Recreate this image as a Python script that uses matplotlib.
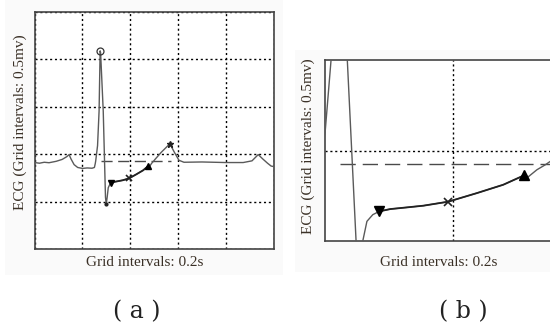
import numpy as np
import matplotlib.pyplot as plt
from matplotlib.patches import Rectangle

# ECG trace (time in s, amplitude in mV)
t = [0.0, 0.02, 0.04, 0.06, 0.09, 0.115, 0.135, 0.144, 0.152, 0.165, 0.18,
     0.2, 0.22, 0.24, 0.25, 0.2535, 0.2555, 0.2632, 0.2696, 0.274, 0.276,
     0.287, 0.2964, 0.2995, 0.3035, 0.308, 0.3143, 0.3213, 0.333, 0.35,
     0.3685, 0.395, 0.4257, 0.454, 0.476, 0.4795, 0.49, 0.499, 0.504, 0.53,
     0.566, 0.585, 0.604, 0.625, 0.70, 0.80, 0.873, 0.91, 0.936, 0.955,
     0.975, 0.99, 1.0]
ecg = [0.912, 0.905, 0.915, 0.91, 0.925, 0.945, 0.975, 0.996, 0.95, 0.89, 0.86,
       0.85, 0.855, 0.852, 0.86, 0.90, 0.93, 1.09, 1.455, 2.09, 2.07,
       1.455, 0.5465, 0.47, 0.5465, 0.6465, 0.68, 0.6965, 0.708, 0.716,
       0.725, 0.745, 0.788, 0.83, 0.8765, 0.865, 0.905, 0.93, 0.946, 1.02,
       1.11, 1.02, 0.936, 0.915, 0.918, 0.912, 0.912, 0.93, 0.996, 0.95,
       0.905, 0.875, 0.87]

# feature points
r_peak = (0.274, 2.09)
s_min = (0.2995, 0.47)
st_on = (0.3213, 0.6965)
st_mid = (0.395, 0.745)
st_off = (0.476, 0.8765)
t_peak = (0.566, 1.11)
iso_level = 0.9335
iso_range = (0.279, 0.57)

txt_col = '#3a3026'
trace_col = '#5a5a5a'

fig = plt.figure(figsize=(5.5, 3.24), dpi=100)
fig.patches.append(Rectangle((5/550, 1-275/324), 278/550, 275/324, transform=fig.transFigure,
                             facecolor='#fafafa', edgecolor='none', zorder=-1))
fig.patches.append(Rectangle((295/550, 1-272/324), 255/550, 222/324, transform=fig.transFigure,
                             facecolor='#fafafa', edgecolor='none', zorder=-1))

ax1 = fig.add_axes([34.7/550, 1-249/324, 238.8/550, 237/324])
ax2 = fig.add_axes([324.7/550, 1-241.3/324, 225.3/550, 181.3/324])

t_arr = np.array(t)
e_arr = np.array(ecg)
seg = (t_arr >= st_on[0]) & (t_arr <= st_off[0])

for ax, ms, dash in [(ax1, 5, (0, (8, 4))), (ax2, 7, (0, (11, 5)))]:
    ax.plot(t, ecg, color=trace_col, lw=1.0, zorder=3)
    ax.plot(t_arr[seg], e_arr[seg], color='#222222', lw=1.3, zorder=3)
    ax.plot(iso_range, [iso_level, iso_level], color='#4a4a4a', lw=1.0, linestyle=dash, zorder=2)
    ax.plot(*r_peak, marker='o', ms=ms, mfc='none', mec='#333333', mew=0.9, zorder=4)
    ax.plot(*s_min, marker='.', ms=4, color='#222222', zorder=4)
    ax.plot(*st_on, marker='v', ms=ms, color='black', zorder=4)
    ax.plot(*st_mid, marker='x', ms=ms - 1, mew=1.2, color='#222222', zorder=4)
    ax.plot(*st_off, marker='^', ms=ms, color='black', zorder=4)
    ax.plot(*t_peak, marker='*', ms=ms, color='#222222', zorder=4)
    ax.set_xticks(np.arange(0, 1.01, 0.2))
    ax.set_yticks(np.arange(0, 2.51, 0.5))
    ax.grid(True, color='black', linestyle=(0, (1.5, 2)), lw=1.0)
    ax.tick_params(length=0, labelbottom=False, labelleft=False)
    for s in ax.spines.values():
        s.set_color('#444444')
        s.set_linewidth(1.2)

ax1.set_xlim(0, 1.0)
ax1.set_ylim(0, 2.5)
ax2.set_xlim(0.2628, 0.504)
ax2.set_ylim(0.5465, 1.455)
ax2.spines['right'].set_visible(False)

serif = ['Liberation Serif', 'DejaVu Serif']
fig.text(145/550, 1-262/324, 'Grid intervals: 0.2s', fontsize=11, family=serif,
         color=txt_col, ha='center', va='center')
fig.text(439/550, 1-262/324, 'Grid intervals: 0.2s', fontsize=11, family=serif,
         color=txt_col, ha='center', va='center')
fig.text(20/550, 1-122/324, 'ECG (Grid intervals: 0.5mv)', fontsize=11, family=serif,
         color=txt_col, ha='center', va='center', rotation=90)
fig.text(308/550, 1-146.5/324, 'ECG (Grid intervals: 0.5mv)', fontsize=11, family=serif,
         color=txt_col, ha='center', va='center', rotation=90)

fig.text(137/550, 1-312/324, '( a )', fontsize=17, family='DejaVu Serif', color='#222222',
         ha='center', va='center')
fig.text(463/550, 1-312/324, '( b )', fontsize=17, family='DejaVu Serif', color='#222222',
         ha='center', va='center')

fig.savefig('out.png', dpi=100)
